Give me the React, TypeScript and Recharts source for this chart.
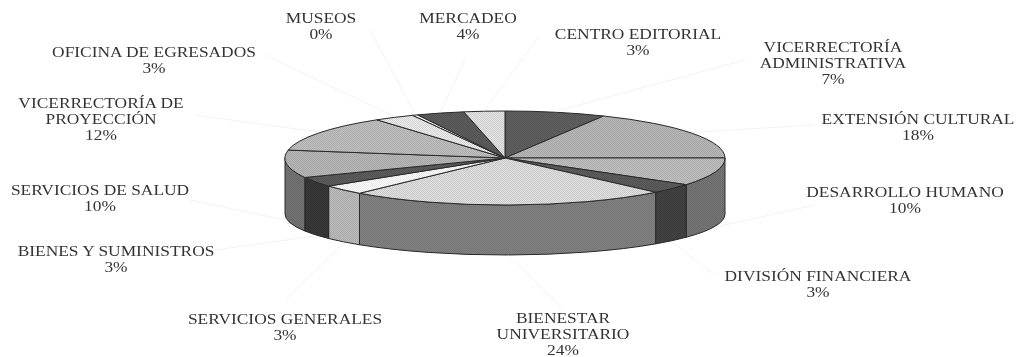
import { Pie, PieChart } from "recharts";

const CATEGORIES = [
  ["VICERRECTORÍA", "ADMINISTRATIVA"],
  ["EXTENSIÓN CULTURAL"],
  ["DESARROLLO HUMANO"],
  ["DIVISIÓN FINANCIERA"],
  ["BIENESTAR", "UNIVERSITARIO"],
  ["SERVICIOS GENERALES"],
  ["BIENES Y SUMINISTROS"],
  ["SERVICIOS DE SALUD"],
  ["VICERRECTORÍA DE", "PROYECCIÓN"],
  ["OFICINA DE EGRESADOS"],
  ["MUSEOS"],
  ["MERCADEO"],
  ["CENTRO EDITORIAL"],
];
// read off the slice edges, so not whole numbers; labels print them rounded
const VALUES = [7.4, 17.6, 9.6, 3.4, 23.5, 3.3, 3.4, 9.5, 12.4, 3, 0.4, 3.5, 3];
const TOP_COLORS = ["#606060", "#b8b8b8", "#c0c0c0", "#5c5c5c", "#e0e0e0", "#ffffff", "#5c5c5c", "#b8b8b8", "#c0c0c0", "#ececec", "#ffffff", "#5c5c5c", "#e4e4e4"];
const SIDE_COLORS = ["#555", "#777", "#767676", "#424242", "#828282", "#bcbcbc", "#383838", "#747474", "#777", "#777", "#777", "#555", "#777"];

// label centre, first baseline, and where its faint leader starts
const LABEL_SPOTS = [
  { x: 833, y: 52, lx: 745, ly: 60 },
  { x: 918, y: 124, lx: 815, ly: 125 },
  { x: 905, y: 197, lx: 815, ly: 205 },
  { x: 818, y: 281, lx: 715, ly: 275 },
  { x: 563, y: 323, lx: 565, ly: 310 },
  { x: 285, y: 324, lx: 285, ly: 300 },
  { x: 116, y: 256, lx: 215, ly: 250 },
  { x: 100, y: 195, lx: 190, ly: 200 },
  { x: 101, y: 108, lx: 195, ly: 115 },
  { x: 154, y: 57, lx: 265, ly: 55 },
  { x: 321, y: 23, lx: 370, ly: 30 },
  { x: 468, y: 23, lx: 465, ly: 60 },
  { x: 638, y: 39, lx: 540, ly: 35 },
];

const data = CATEGORIES.map((lines, i) => ({
  name: lines.join(" "),
  lines,
  value: VALUES[i],
  top: TOP_COLORS[i],
  side: SIDE_COLORS[i],
}));

const CX = 505;
const CY = 158;
const RX = 220;
const RY = 47;
// the lower rim is a flatter ellipse than the top face
const BOTTOM_CY = CY + 56;
const BOTTOM_RY = 41;
const EDGE = "#2a2a2a";
const RAD = Math.PI / 180;

const rim = (angle: number) => [CX + RX * Math.cos(-angle * RAD), CY + RY * Math.sin(-angle * RAD)];
const lowerRim = (angle: number) => [CX + RX * Math.cos(-angle * RAD), BOTTOM_CY + BOTTOM_RY * Math.sin(-angle * RAD)];

function TopSlice(props: any) {
  const { startAngle, endAngle, payload } = props;
  const [x1, y1] = rim(startAngle);
  const [x2, y2] = rim(endAngle);
  const large = startAngle - endAngle > 180 ? 1 : 0;
  const d = `M${CX},${CY}L${x1},${y1}A${RX},${RY} 0 ${large} 1 ${x2},${y2}Z`;
  return (
    <g>
      <path d={d} fill={payload.top} />
      <path d={d} fill="url(#dither)" stroke={EDGE} strokeWidth={1} />
    </g>
  );
}

// only the part of the arc facing the viewer gets a wall
function SideSlice(props: any) {
  const { startAngle, endAngle, payload } = props;
  const s = Math.min(startAngle, 0);
  const e = Math.max(endAngle, -180);
  if (s <= e) return <g />;
  const [x1, y1] = rim(s);
  const [x2, y2] = rim(e);
  const [x3, y3] = lowerRim(e);
  const [x4, y4] = lowerRim(s);
  const d = `M${x1},${y1}A${RX},${RY} 0 0 1 ${x2},${y2}L${x3},${y3}A${RX},${BOTTOM_RY} 0 0 0 ${x4},${y4}Z`;
  return (
    <g>
      <path d={d} fill={payload.side} />
      <path d={d} fill="url(#dither)" stroke={EDGE} strokeWidth={1} />
    </g>
  );
}

function SliceLabel(props: any) {
  const { index, midAngle, payload } = props;
  const spot = LABEL_SPOTS[index];
  const [ex, ey] = rim(midAngle);
  const [, by] = lowerRim(midAngle);
  const lines = [...data[index].lines, `${Math.round(payload.value)}%`];
  return (
    <g>
      <line x1={spot.lx} y1={spot.ly} x2={ex} y2={ey > CY ? by + 1 : ey - 1} stroke="#f3f3f3" strokeWidth={1} />
      <text
        transform={`translate(${spot.x} ${spot.y}) scale(1.2 1)`}
        textAnchor="middle"
        fontFamily='"Liberation Serif", serif'
        fontSize={14.5}
        fill="#333"
      >
        {lines.map((line, i) => (
          <tspan key={i} x={0} dy={i === 0 ? 0 : 16}>
            {line}
          </tspan>
        ))}
      </text>
    </g>
  );
}

export default function App() {
  return (
    <div style={{ position: "absolute", left: 0, top: 0, width: 1021, height: 357, background: "#fff", filter: "blur(0.45px)" }}>
      <PieChart width={1021} height={357} margin={{ top: 0, right: 0, bottom: 0, left: 0 }}>
        <defs>
          <pattern id="dither" width="2" height="2" patternUnits="userSpaceOnUse">
            <rect width="1" height="1" fill="#000" opacity={0.1} />
            <rect x="1" y="1" width="1" height="1" fill="#000" opacity={0.1} />
          </pattern>
        </defs>
        <Pie
          data={data}
          dataKey="value"
          cx={CX}
          cy={CY}
          outerRadius={RX}
          startAngle={90}
          endAngle={-270}
          shape={SideSlice}
          isAnimationActive={false}
        />
        <Pie
          data={data}
          dataKey="value"
          cx={CX}
          cy={CY}
          outerRadius={RX}
          startAngle={90}
          endAngle={-270}
          shape={TopSlice}
          label={SliceLabel}
          labelLine={false}
          isAnimationActive={false}
        />
      </PieChart>
    </div>
  );
}
